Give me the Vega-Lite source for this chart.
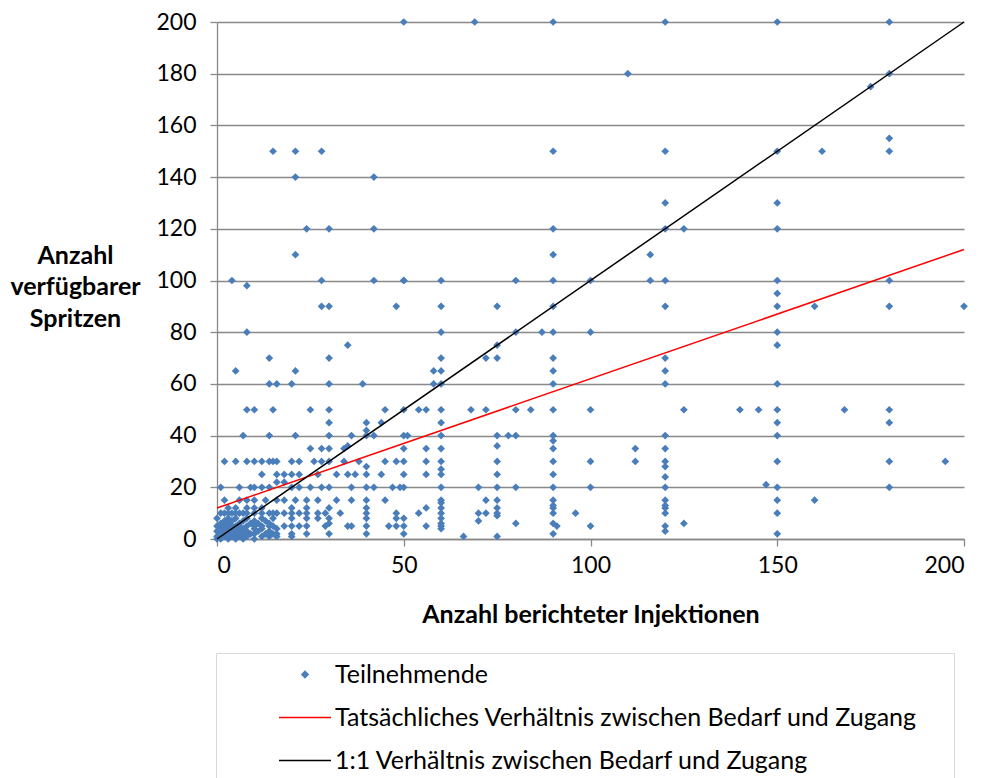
{
  "$schema": "https://vega.github.io/schema/vega-lite/v6.json",
  "width": 747,
  "height": 517,
  "autosize": "none",
  "padding": {"left": 217, "top": 22, "right": 23, "bottom": 239},
  "config": {
    "view": {"stroke": null},
    "font": "Lato",
    "axis": {"labelColor": "#000000", "titleColor": "#000000", "domainColor": "#898989", "tickColor": "#898989", "gridColor": "#898989", "domainWidth": 1.3, "tickWidth": 1.3, "gridWidth": 1.3},
    "legend": {
      "title": null, "orient": "none", "legendX": -1, "legendY": 631, "direction": "vertical",
      "strokeColor": "#d9d9d9", "padding": 0, "labelFontSize": 25, "labelLimit": 1000, "labelColor": "#000000",
      "symbolSize": 2704, "clipHeight": 43, "rowPadding": 0, "symbolOffset": 62, "labelOffset": 3,
      "symbolStrokeWidth": 1.5
    }
  },
  "datasets": {
    "pts": [
      {"x":15,"y":150},{"x":21,"y":150},{"x":28,"y":150},{"x":21,"y":140},{"x":42,"y":140},{"x":24,"y":120},{"x":30,"y":120},{"x":42,"y":120},{"x":21,"y":110},{"x":4,"y":100},{"x":8,"y":98},{"x":28,"y":100},{"x":42,"y":100},{"x":50,"y":100},{"x":28,"y":90},{"x":30,"y":90},{"x":48,"y":90},{"x":8,"y":80},{"x":35,"y":75},{"x":14,"y":70},{"x":30,"y":70},{"x":5,"y":65},{"x":21,"y":65},{"x":14,"y":60},{"x":16,"y":60},{"x":20,"y":60},{"x":30,"y":60},{"x":39,"y":60},
      {"x":8,"y":50},{"x":10,"y":50},{"x":15,"y":50},{"x":25,"y":50},{"x":30,"y":50},{"x":45,"y":50},
      {"x":30,"y":45},{"x":40,"y":45},{"x":44,"y":45},
      {"x":7,"y":40},{"x":14,"y":40},{"x":21,"y":40},{"x":30,"y":40},{"x":36,"y":40},{"x":40,"y":40},{"x":42,"y":40},{"x":40,"y":42},
      {"x":25,"y":35},{"x":28,"y":35},{"x":30,"y":35},{"x":34,"y":35},{"x":35,"y":36},
      {"x":2,"y":30},{"x":5,"y":30},{"x":8,"y":30},{"x":10,"y":30},{"x":12,"y":30},{"x":14,"y":30},{"x":15,"y":30},{"x":16,"y":30},{"x":20,"y":30},{"x":22,"y":30},{"x":26,"y":30},{"x":28,"y":30},{"x":30,"y":30},{"x":34,"y":30},{"x":38,"y":30},{"x":45,"y":30},{"x":48,"y":30},{"x":40,"y":28},
      {"x":12,"y":25},{"x":16,"y":25},{"x":18,"y":25},{"x":20,"y":25},{"x":22,"y":25},{"x":27,"y":25},{"x":32,"y":25},{"x":35,"y":25},{"x":37,"y":25},{"x":40,"y":25},{"x":44,"y":25},{"x":16,"y":22},{"x":18,"y":22},
      {"x":1,"y":20},{"x":6,"y":20},{"x":9,"y":20},{"x":10,"y":20},{"x":12,"y":20},{"x":14,"y":20},{"x":20,"y":20},{"x":22,"y":20},{"x":25,"y":20},{"x":28,"y":20},{"x":30,"y":20},{"x":36,"y":20},{"x":40,"y":20},{"x":42,"y":20},{"x":47,"y":20},
      {"x":2,"y":15},{"x":13,"y":15},{"x":16,"y":15},{"x":18,"y":15},{"x":21,"y":15},{"x":24,"y":15},{"x":27,"y":15},{"x":32,"y":15},{"x":36,"y":15},{"x":40,"y":15},{"x":45,"y":15},
      {"x":20,"y":12},{"x":24,"y":12},{"x":30,"y":12},{"x":40,"y":12},
      {"x":16,"y":10},{"x":18,"y":10},{"x":20,"y":10},{"x":22,"y":10},{"x":24,"y":10},{"x":27,"y":10},{"x":29,"y":10},{"x":33,"y":10},{"x":40,"y":10},{"x":48,"y":10},
      {"x":20,"y":8},{"x":24,"y":8},{"x":27,"y":8},{"x":30,"y":8},{"x":40,"y":8},{"x":48,"y":8},
      {"x":18,"y":5},{"x":20,"y":5},{"x":22,"y":5},{"x":24,"y":5},{"x":29,"y":5},{"x":30,"y":6},{"x":35,"y":5},{"x":36,"y":5},{"x":40,"y":5},{"x":46,"y":5},{"x":48,"y":5},
      {"x":16,"y":2},{"x":20,"y":2},{"x":24,"y":2},{"x":30,"y":2},{"x":40,"y":2},{"x":16,"y":1},{"x":20,"y":1},
      {"x":0,"y":0},{"x":1,"y":0},{"x":3,"y":0},{"x":5,"y":0},{"x":7,"y":0},{"x":10,"y":0},
      {"x":0,"y":1},{"x":2,"y":1},{"x":4,"y":1},{"x":6,"y":1},{"x":8,"y":1},{"x":12,"y":1},{"x":14,"y":1},
      {"x":1,"y":2},{"x":3,"y":2},{"x":5,"y":2},{"x":7,"y":2},{"x":9,"y":2},{"x":10,"y":2},{"x":13,"y":2},{"x":15,"y":2},
      {"x":0,"y":3},{"x":2,"y":3},{"x":4,"y":3},{"x":6,"y":3},{"x":8,"y":3},{"x":11,"y":3},{"x":14,"y":3},
      {"x":1,"y":4},{"x":3,"y":4},{"x":5,"y":4},{"x":7,"y":4},{"x":10,"y":4},{"x":12,"y":4},{"x":16,"y":4},
      {"x":0,"y":5},{"x":2,"y":5},{"x":4,"y":5},{"x":5,"y":5},{"x":6,"y":5},{"x":8,"y":5},{"x":10,"y":5},{"x":12,"y":5},{"x":14,"y":5},{"x":15,"y":5},
      {"x":1,"y":6},{"x":3,"y":6},{"x":6,"y":6},{"x":9,"y":6},{"x":11,"y":6},{"x":14,"y":6},
      {"x":2,"y":7},{"x":4,"y":7},{"x":7,"y":7},{"x":10,"y":7},{"x":13,"y":7},
      {"x":0,"y":8},{"x":3,"y":8},{"x":5,"y":8},{"x":8,"y":8},{"x":12,"y":8},{"x":15,"y":8},
      {"x":1,"y":10},{"x":2,"y":10},{"x":3,"y":10},{"x":4,"y":10},{"x":5,"y":10},{"x":6,"y":10},{"x":7,"y":10},{"x":8,"y":10},{"x":10,"y":10},{"x":12,"y":10},{"x":14,"y":10},{"x":15,"y":10},
      {"x":3,"y":12},{"x":5,"y":12},{"x":8,"y":12},{"x":10,"y":12},{"x":12,"y":12},
      {"x":6,"y":15},{"x":8,"y":15},{"x":10,"y":15},
      {"x":90,"y":110},{"x":50,"y":100},{"x":60,"y":100},{"x":80,"y":100},{"x":90,"y":100},{"x":100,"y":100},{"x":60,"y":90},{"x":75,"y":90},{"x":90,"y":90},{"x":60,"y":80},{"x":80,"y":80},{"x":87,"y":80},{"x":90,"y":80},{"x":100,"y":80},{"x":75,"y":75},{"x":60,"y":70},{"x":72,"y":70},{"x":75,"y":70},{"x":90,"y":70},{"x":58,"y":65},{"x":60,"y":65},{"x":90,"y":65},{"x":58,"y":60},{"x":60,"y":60},{"x":90,"y":60},
      {"x":50,"y":50},{"x":54,"y":50},{"x":56,"y":50},{"x":60,"y":50},{"x":68,"y":50},{"x":72,"y":50},{"x":80,"y":50},{"x":84,"y":50},{"x":90,"y":50},{"x":100,"y":50},{"x":60,"y":45},
      {"x":50,"y":40},{"x":51,"y":40},{"x":60,"y":40},{"x":75,"y":40},{"x":78,"y":40},{"x":80,"y":40},{"x":90,"y":40},{"x":90,"y":38},{"x":75,"y":36},
      {"x":50,"y":35},{"x":56,"y":35},{"x":60,"y":35},{"x":90,"y":35},
      {"x":50,"y":30},{"x":56,"y":30},{"x":60,"y":30},{"x":75,"y":30},{"x":90,"y":30},{"x":100,"y":30},{"x":60,"y":27},
      {"x":50,"y":25},{"x":56,"y":25},{"x":60,"y":25},{"x":75,"y":25},{"x":90,"y":25},
      {"x":49,"y":20},{"x":50,"y":20},{"x":60,"y":20},{"x":70,"y":20},{"x":75,"y":20},{"x":80,"y":20},{"x":90,"y":20},{"x":100,"y":20},
      {"x":60,"y":15},{"x":72,"y":15},{"x":75,"y":15},{"x":90,"y":15},{"x":60,"y":14},{"x":90,"y":13},
      {"x":56,"y":12},{"x":75,"y":12},{"x":60,"y":12},{"x":90,"y":12},
      {"x":54,"y":10},{"x":60,"y":10},{"x":70,"y":10},{"x":72,"y":10},{"x":75,"y":10},{"x":90,"y":10},{"x":96,"y":10},
      {"x":75,"y":9},{"x":50,"y":8},{"x":70,"y":7},{"x":60,"y":8},{"x":60,"y":6},{"x":80,"y":6},{"x":90,"y":6},
      {"x":50,"y":5},{"x":56,"y":5},{"x":60,"y":5},{"x":91,"y":5},{"x":100,"y":5},
      {"x":60,"y":4},{"x":50,"y":2},{"x":90,"y":2},{"x":66,"y":1},{"x":75,"y":1},
      {"x":116,"y":110},{"x":116,"y":100},{"x":120,"y":100},{"x":150,"y":100},{"x":150,"y":95},{"x":120,"y":90},{"x":150,"y":90},{"x":150,"y":80},{"x":150,"y":75},{"x":120,"y":70},{"x":120,"y":65},{"x":120,"y":60},{"x":150,"y":60},
      {"x":125,"y":50},{"x":140,"y":50},{"x":145,"y":50},{"x":150,"y":50},{"x":150,"y":45},{"x":120,"y":40},{"x":150,"y":40},{"x":112,"y":35},{"x":120,"y":35},{"x":112,"y":30},{"x":120,"y":30},{"x":150,"y":30},{"x":120,"y":28},{"x":120,"y":24},{"x":147,"y":21},{"x":120,"y":20},{"x":150,"y":20},
      {"x":120,"y":15},{"x":120,"y":13},{"x":120,"y":12},{"x":120,"y":10},{"x":150,"y":15},{"x":150,"y":10},{"x":125,"y":6},{"x":120,"y":5},{"x":120,"y":3},{"x":150,"y":2},
      {"x":180,"y":100},{"x":160,"y":90},{"x":180,"y":90},{"x":200,"y":90},{"x":168,"y":50},{"x":180,"y":50},{"x":180,"y":45},{"x":180,"y":30},{"x":195,"y":30},{"x":180,"y":20},{"x":160,"y":15},
      {"x":50,"y":200},{"x":69,"y":200},{"x":90,"y":200},{"x":120,"y":200},{"x":150,"y":200},{"x":180,"y":200},{"x":110,"y":180},{"x":180,"y":180},{"x":175,"y":175},{"x":180,"y":155},{"x":90,"y":150},{"x":120,"y":150},{"x":150,"y":150},{"x":162,"y":150},{"x":180,"y":150},{"x":120,"y":130},{"x":150,"y":130},{"x":90,"y":120},{"x":120,"y":120},{"x":125,"y":120},{"x":150,"y":120}
    ],
    "lines": [
      {"series": "Tatsächliches Verhältnis zwischen Bedarf und Zugang", "x": 0, "y": 12},
      {"series": "Tatsächliches Verhältnis zwischen Bedarf und Zugang", "x": 200, "y": 112},
      {"series": "1:1 Verhältnis zwischen Bedarf und Zugang", "x": 0, "y": 0},
      {"series": "1:1 Verhältnis zwischen Bedarf und Zugang", "x": 200, "y": 200}
    ]
  },
  "encoding": {
    "x": {
      "field": "x", "type": "quantitative",
      "scale": {"domain": [0, 200], "nice": false},
      "axis": {"values": [0, 50, 100, 150, 200], "grid": false, "tickSize": 7, "labelFontSize": 23, "labelPadding": 8,
        "title": "Anzahl berichteter Injektionen", "titleFontSize": 25, "titleFontWeight": "bold", "titleY": 75, "titleBaseline": "middle"}
    },
    "y": {
      "field": "y", "type": "quantitative",
      "scale": {"domain": [0, 200], "nice": false},
      "axis": {"values": [0, 20, 40, 60, 80, 100, 120, 140, 160, 180, 200], "grid": true, "tickSize": 7, "labelFontSize": 23, "labelPadding": 14,
        "title": ["Anzahl", "verfügbarer", "Spritzen"], "titleFontSize": 25, "titleFontWeight": "bold", "titleAngle": 0, "titleAlign": "center",
        "titleBaseline": "middle", "titleX": -142, "titleY": 233, "titleLineHeight": 31.5}
    }
  },
  "layer": [
    {
      "data": {"name": "pts"},
      "mark": {"type": "point", "shape": "diamond", "filled": true, "size": 60, "opacity": 1},
      "encoding": {
        "color": {
          "datum": "Teilnehmende",
          "title": null,
          "scale": {"domain": ["Teilnehmende", "Tatsächliches Verhältnis zwischen Bedarf und Zugang", "1:1 Verhältnis zwischen Bedarf und Zugang"], "range": ["#4A7EBB", "#FF0000", "#000000"]},
          "legend": {
            "title": null,
            "encode": {
              "labels": {"update": {"text": {"signal": "datum.index === 1 ? datum.label + '\u2800\u2800\u00a0\u00a0' : datum.label"}}},
              "symbols": {"update": {
                "shape": {"signal": "datum.value === 'Teilnehmende' ? 'diamond' : 'stroke'"},
                "size": {"signal": "datum.value === 'Teilnehmende' ? 40 : 2704"},
                "fill": {"scale": "color", "field": "value"},
                "stroke": {"scale": "color", "field": "value"},
                "strokeWidth": {"value": 1.5},
                "opacity": {"value": 1}
              }}
            }
          }
        }
      }
    },
    {
      "data": {"name": "lines"},
      "mark": {"type": "line", "strokeWidth": 1.5},
      "encoding": {
        "color": {
          "field": "series", "type": "nominal", "title": null,
          "legend": {
            "title": null,
            "encode": {
              "labels": {"update": {"text": {"signal": "datum.index === 1 ? datum.label + '\u2800\u2800\u00a0\u00a0' : datum.label"}}},
              "symbols": {"update": {
                "shape": {"signal": "datum.value === 'Teilnehmende' ? 'diamond' : 'stroke'"},
                "size": {"signal": "datum.value === 'Teilnehmende' ? 40 : 2704"},
                "fill": {"scale": "color", "field": "value"},
                "stroke": {"scale": "color", "field": "value"},
                "strokeWidth": {"value": 1.5},
                "opacity": {"value": 1}
              }}
            }
          }
        }
      }
    }
  ]
}
